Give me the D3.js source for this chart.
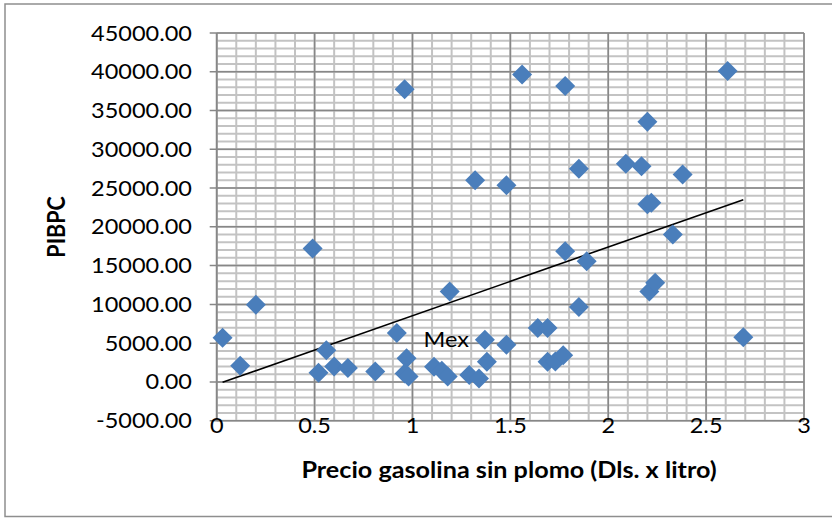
<!DOCTYPE html>
<html>
<head>
<meta charset="utf-8">
<script src="https://cdn.jsdelivr.net/npm/d3@7/dist/d3.min.js"></script>
<style>
  html, body { margin: 0; padding: 0; background: #fff; }
  svg { display: block; font-family: Lato, 'Open Sans', sans-serif; }
</style>
</head>
<body>
<div id="chart"></div>
<script>
// precio gasolina sin plomo (Dls. x litro) vs PIBPC
const precio = [0.03, 0.12, 0.20, 0.49, 0.52, 0.56, 0.60, 0.67, 0.81, 0.92,
  0.97, 0.96, 0.98, 0.96, 1.56, 1.78, 1.32, 1.48, 1.85, 2.61,
  2.20, 2.09, 2.17, 2.38, 2.20, 2.22, 2.33, 2.21, 2.24, 2.69,
  1.19, 1.37, 1.48, 1.38, 1.11, 1.15, 1.18, 1.29, 1.34, 1.64,
  1.69, 1.69, 1.73, 1.77, 1.78, 1.89, 1.85]
const pibpc = [5700, 2100, 9950, 17200, 1200, 4100, 2000, 1800, 1350, 6300,
  3050, 1100, 700, 37750, 39650, 38150, 26000, 25350, 27500, 40100,
  33550, 28150, 27800, 26750, 22900, 23100, 19000, 11650, 12800, 5750,
  11650, 5450, 4800, 2600, 1950, 1450, 700, 900, 450, 6950,
  6950, 2600, 2650, 3450, 16850, 15550, 9650]
const labelIdx = [31]
const labelText = ['Mex']
// linear trendline end points
const trendX = [0.03, 2.69]
const trendY = [-50, 23510]

const xTicks = [0, 0.5, 1, 1.5, 2, 2.5, 3]
const yTicks = [-5000, 0, 5000, 10000, 15000, 20000, 25000, 30000, 35000, 40000, 45000]

const W = 832
const H = 518
const PLOT = {left: 216.7, right: 804, top: 33, bottom: 420.7}
const STRETCH = 1.12
const BLUE = '#4a7ebb'

const x = d3.scaleLinear().domain([0, 3]).range([PLOT.left, PLOT.right])
const y = d3.scaleLinear().domain([-5000, 45000]).range([PLOT.bottom, PLOT.top])

const svg = d3.select('#chart').append('svg').attr('width', W).attr('height', H)

// chart border
svg.append('rect')
  .attr('x', 5).attr('y', 4).attr('width', 840).attr('height', 512.5)
  .attr('fill', 'none').attr('stroke', '#8e8e8e').attr('stroke-width', 1.5)

// grid: minor then major
const grid = svg.append('g')
grid.selectAll('line.vmin').data(d3.range(0, 31).map(i => i / 10)).enter()
  .append('line').attr('class', 'vmin')
  .attr('x1', d => x(d)).attr('x2', d => x(d)).attr('y1', PLOT.top).attr('y2', PLOT.bottom)
  .attr('stroke', '#c3c3c3').attr('stroke-width', 2)
grid.selectAll('line.hmin').data(d3.range(-5000, 45001, 1000)).enter()
  .append('line').attr('class', 'hmin')
  .attr('x1', PLOT.left).attr('x2', PLOT.right).attr('y1', d => y(d)).attr('y2', d => y(d))
  .attr('stroke', '#c3c3c3').attr('stroke-width', 2)
grid.selectAll('line.vmaj').data(xTicks).enter()
  .append('line').attr('class', 'vmaj')
  .attr('x1', d => x(d)).attr('x2', d => x(d)).attr('y1', PLOT.top).attr('y2', PLOT.bottom)
  .attr('stroke', '#878787').attr('stroke-width', 1.5)
grid.selectAll('line.hmaj').data(yTicks).enter()
  .append('line').attr('class', 'hmaj')
  .attr('x1', PLOT.left - 7).attr('x2', PLOT.right).attr('y1', d => y(d)).attr('y2', d => y(d))
  .attr('stroke', '#878787').attr('stroke-width', 1.5)

// y axis line
svg.append('line')
  .attr('x1', PLOT.left).attr('x2', PLOT.left).attr('y1', PLOT.top).attr('y2', PLOT.bottom)
  .attr('stroke', '#878787').attr('stroke-width', 1.5)

// tick labels (text is drawn slightly wider, like the original)
svg.selectAll('text.ylab').data(yTicks).enter()
  .append('text').attr('class', 'ylab')
  .attr('text-anchor', 'end').attr('font-size', 21).attr('fill', '#000')
  .attr('transform', d => `translate(192, ${y(d) + 7.5}) scale(${STRETCH}, 1)`)
  .text(d => d.toFixed(2))

svg.selectAll('text.xlab').data(xTicks).enter()
  .append('text').attr('class', 'xlab')
  .attr('text-anchor', 'middle').attr('font-size', 21).attr('fill', '#000')
  .attr('transform', d => `translate(${x(d)}, 432.5) scale(${STRETCH}, 1)`)
  .text(d => d)

// trendline
svg.append('line')
  .attr('x1', x(trendX[0])).attr('y1', y(trendY[0]))
  .attr('x2', x(trendX[1])).attr('y2', y(trendY[1]))
  .attr('stroke', '#000').attr('stroke-width', 1.6)

// points
const diamond = d3.symbol(d3.symbolSquare, 200)
svg.append('g').selectAll('path').data(precio).enter()
  .append('path')
  .attr('d', diamond)
  .attr('transform', (d, i) => `translate(${x(d)}, ${y(pibpc[i])}) rotate(45)`)
  .attr('fill', BLUE)

// data label
svg.selectAll('text.plab').data(labelIdx).enter()
  .append('text').attr('class', 'plab')
  .attr('text-anchor', 'end').attr('font-size', 21).attr('fill', '#000')
  .attr('transform', d => `translate(${x(precio[d]) - 16}, ${y(pibpc[d]) + 7.5}) scale(${STRETCH}, 1)`)
  .text((d, i) => labelText[i])

// axis titles
svg.append('text')
  .attr('text-anchor', 'middle').attr('font-size', 22.5).attr('font-weight', 'bold')
  .attr('transform', `translate(509, 478) scale(${STRETCH}, 1)`)
  .text('Precio gasolina sin plomo (Dls. x litro)')

svg.append('text')
  .attr('text-anchor', 'middle').attr('font-size', 21.5).attr('font-weight', 'bold')
  .attr('transform', `translate(64.5, 227) rotate(-90) scale(1, ${STRETCH})`)
  .text('PIBPC')
</script>
</body>
</html>
